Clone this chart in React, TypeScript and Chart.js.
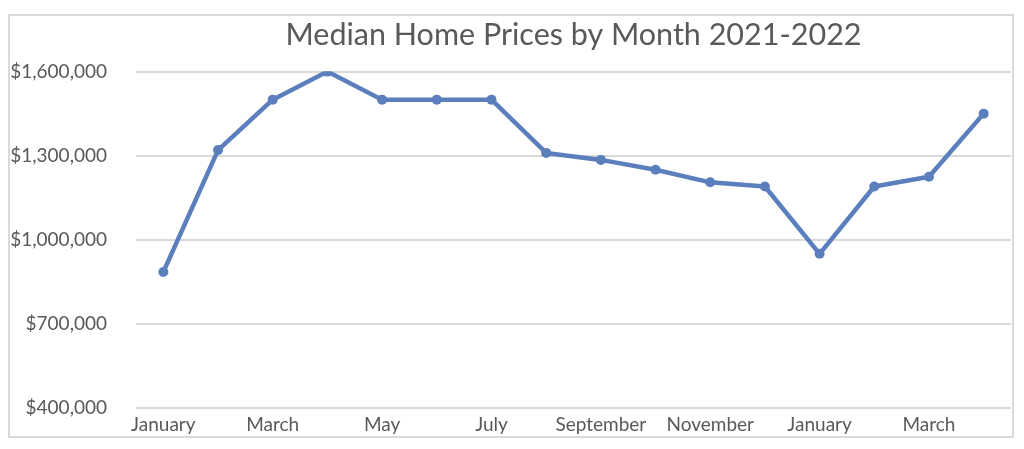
import React, { useEffect, useRef } from "react";
import { Chart, registerables } from "chart.js";

Chart.register(...registerables);

const months: string[] = [
  "January", "February", "March", "April", "May", "June", "July", "August",
  "September", "October", "November", "December", "January", "February", "March", "April",
];

const medianPrices: number[] = [
  885000, 1320000, 1500000, 1600000, 1500000, 1500000, 1500000, 1310000,
  1285000, 1250000, 1205000, 1190000, 950000, 1190000, 1225000, 1450000,
];

const yMin = 400000;
const yMax = 1600000;
const yStep = 300000;

const titleText = "Median Home Prices by Month 2021-2022";

const FONT = "Lato, 'Open Sans', sans-serif";
const TEXT_COLOR = "#595959";
const GRID_COLOR = "#d9d9d9";
const LINE_COLOR = "#5b7fbd";

export default function App() {
  const canvasRef = useRef<HTMLCanvasElement | null>(null);

  useEffect(() => {
    if (!canvasRef.current) return;
    const chart = new Chart(canvasRef.current, {
      type: "line",
      data: {
        labels: months,
        datasets: [
          {
            label: "Median Price",
            data: medianPrices,
            borderColor: LINE_COLOR,
            backgroundColor: LINE_COLOR,
            borderWidth: 4.5,
            pointRadius: 5,
            pointBorderWidth: 0,
            pointBackgroundColor: LINE_COLOR,
            tension: 0,
            borderJoinStyle: "round",
            borderCapStyle: "round",
          },
        ],
      },
      options: {
        animation: false,
        responsive: false,
        maintainAspectRatio: false,
        layout: { autoPadding: false, padding: { left: 0, right: 1, top: 0, bottom: 0 } },
        plugins: {
          legend: { display: false },
          tooltip: { enabled: false },
          title: {
            display: true,
            text: titleText,
            fullSize: false,
            color: TEXT_COLOR,
            font: { family: FONT, size: 30.5, weight: "normal" },
            padding: { top: 1, bottom: 18 },
          },
        },
        scales: {
          x: {
            offset: true,
            grid: { display: false, drawTicks: false },
            border: { display: false },
            afterFit: (scale: any) => {
              scale.height = 28;
            },
            ticks: {
              autoSkip: false,
              maxRotation: 0,
              padding: 5.5,
              color: TEXT_COLOR,
              font: { family: FONT, size: 19 },
              callback: (_v: any, i: number) => (i % 2 === 0 ? months[i] : ""),
            },
          },
          y: {
            min: yMin,
            max: yMax,
            grid: { color: GRID_COLOR, lineWidth: 2, drawTicks: false },
            border: { display: false },
            // fixed axis width; the wide label gap should not shrink the plot vertically
            afterFit: (scale: any) => {
              scale.width = 126;
              scale.paddingTop = 0;
              scale.paddingBottom = 0;
            },
            ticks: {
              stepSize: yStep,
              padding: 29,
              color: TEXT_COLOR,
              font: { family: FONT, size: 19 },
              callback: (v: any) => "$" + Number(v).toLocaleString("en-US"),
            },
          },
        },
      },
    });
    return () => chart.destroy();
  }, []);

  return (
    <div
      style={{
        position: "absolute",
        left: 8,
        top: 14,
        width: 1002,
        height: 420,
        border: `2px solid ${GRID_COLOR}`,
        background: "#ffffff",
      }}
    >
      <canvas ref={canvasRef} width={1002} height={420} style={{ display: "block" }} />
    </div>
  );
}
